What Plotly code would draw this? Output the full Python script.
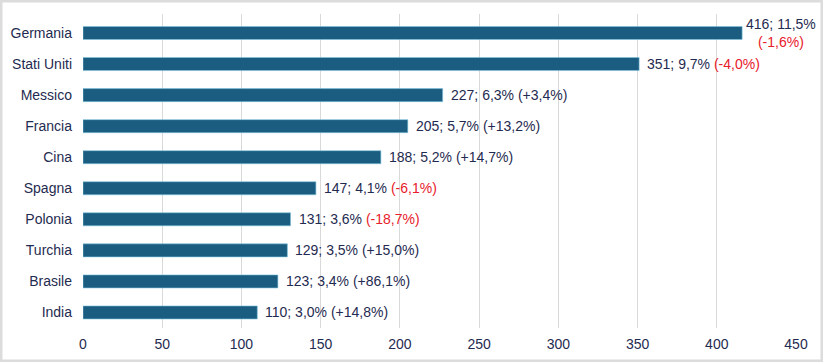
import plotly.graph_objects as go

countries = ["Germania", "Stati Uniti", "Messico", "Francia", "Cina", "Spagna",
             "Polonia", "Turchia", "Brasile", "India"]
values = [416, 351, 227, 205, 188, 147, 131, 129, 123, 110]
shares = ["11,5%", "9,7%", "6,3%", "5,7%", "5,2%", "4,1%", "3,6%", "3,5%", "3,4%", "3,0%"]
changes = ["-1,6%", "-4,0%", "+3,4%", "+13,2%", "+14,7%", "-6,1%", "-18,7%", "+15,0%", "+86,1%", "+14,8%"]
x_ticks = [0, 50, 100, 150, 200, 250, 300, 350, 400, 450]

W, H = 823, 362
ML, MR, MT, MB = 83, 27, 14, 34

navy = "#1f2b50"
red = "#e8202a"
bar_color = "#1a5d80"
FONT = "Liberation Sans, Arial, sans-serif"

fig = go.Figure(go.Bar(
    x=values, y=countries, orientation="h",
    marker=dict(color=bar_color, line=dict(color="#7fc4dd", width=0.6)),
    width=0.42, hoverinfo="skip"))

annotations = []
for i, (c, v, s, ch) in enumerate(zip(countries, values, shares, changes)):
    col = red if ch.startswith("-") else navy
    if i == 0:
        txt = f"{v}; {s}<br><span style='color:{col}'>({ch})</span>"
    else:
        txt = f"{v}; {s} <span style='color:{col}'>({ch})</span>"
    annotations.append(dict(x=v, y=c, xref="x", yref="y", text=txt, showarrow=False,
                            xanchor="left", yanchor="middle", align="center",
                            xshift=2 if i == 0 else 6,
                            font=dict(family=FONT, size=14, color=navy)))

pw = W - ML - MR
ph = H - MT - MB
fig.update_layout(
    width=W, height=H,
    margin=dict(l=ML, r=MR, t=MT, b=MB, autoexpand=False),
    paper_bgcolor="white", plot_bgcolor="white",
    showlegend=False,
    annotations=annotations,
    font=dict(family=FONT, size=14, color=navy),
    xaxis=dict(range=[0, 450], tickvals=x_ticks, showgrid=True, gridcolor="#d9d9d9",
               gridwidth=1, zeroline=False, showline=False, ticks="",
               ticklabelstandoff=6,
               tickfont=dict(size=14, color=navy), fixedrange=True),
    yaxis=dict(categoryorder="array", categoryarray=countries, autorange="reversed",
               showgrid=False, ticks="", showline=False, ticklabelstandoff=10,
               tickfont=dict(size=14, color=navy)),
    shapes=[dict(type="rect", xref="paper", yref="paper",
                 x0=-(ML - 1) / pw, x1=1 + (MR - 1) / pw,
                 y0=-(MB - 1) / ph, y1=1 + (MT - 1) / ph,
                 line=dict(color="#dcdcdc", width=3), layer="below")],
)
fig.write_html("out.html", config={"displayModeBar": False},
               post_script="document.body.style.margin='0';")
